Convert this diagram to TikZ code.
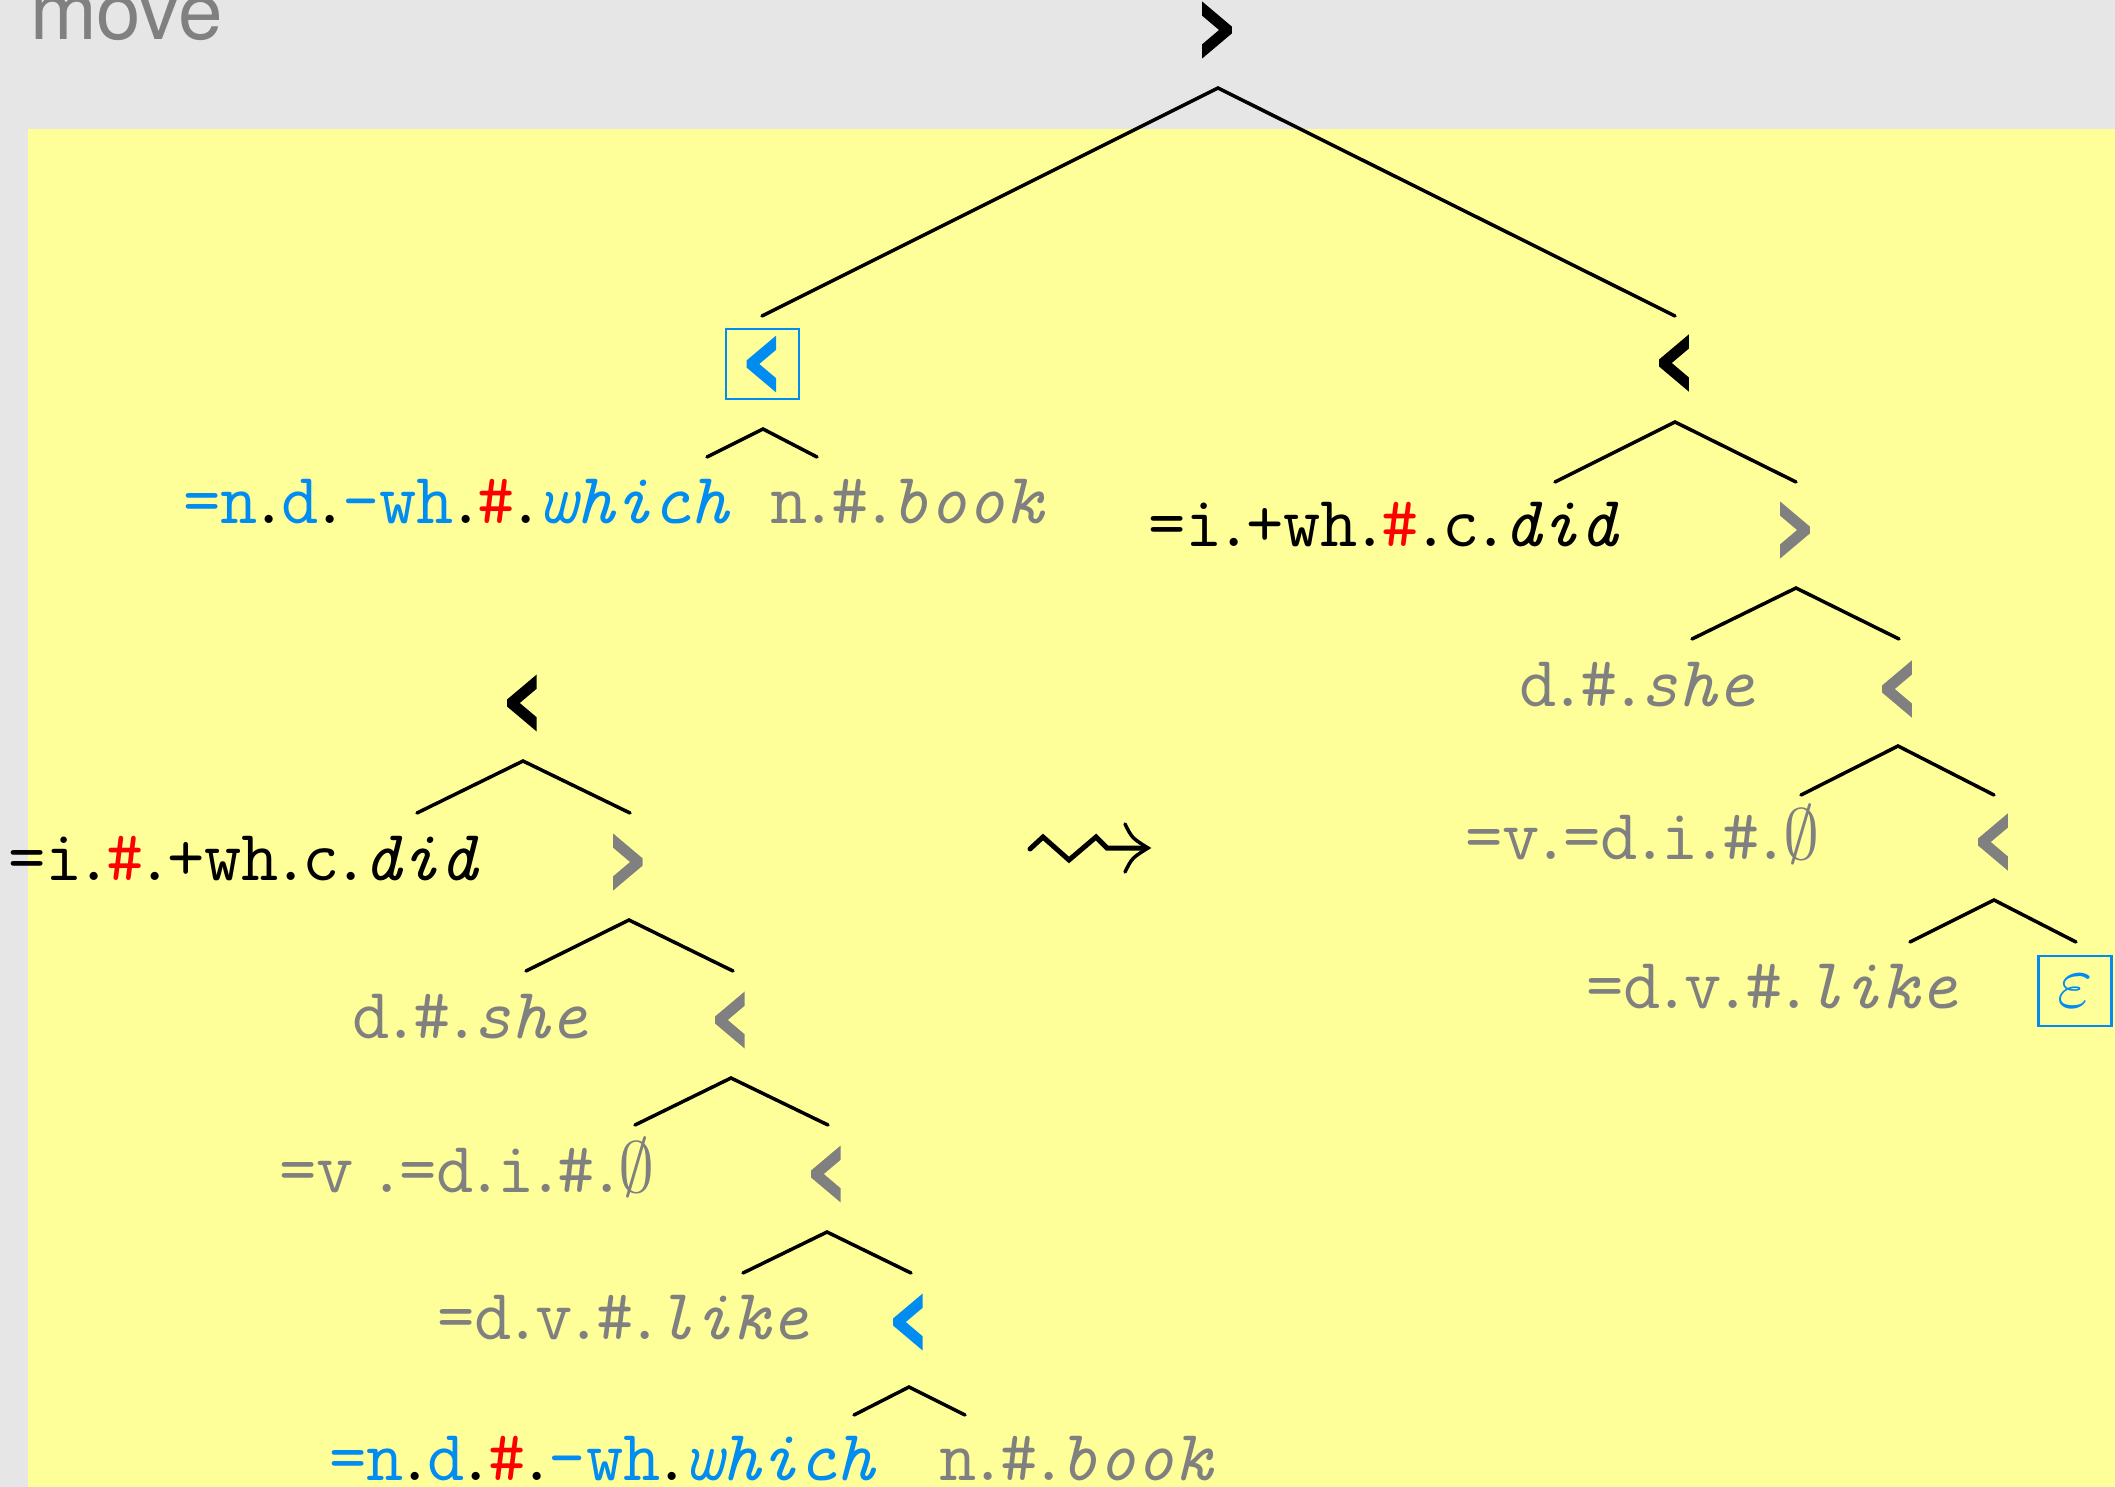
\documentclass[tikz,border=0pt]{standalone}
\usepackage{fontspec}
\newfontfamily\heros{TeX Gyre Heros}
\newfontfamily\symf{TeX Gyre Heros}[BoldFeatures={FakeBold=6}]

\definecolor{bggray}{HTML}{E6E6E6}
\definecolor{bgyellow}{HTML}{FFFF99}
\definecolor{mgblue}{RGB}{0,140,240}
\definecolor{txgray}{HTML}{808080}
\definecolor{hashred}{HTML}{FF0000}

% feature separators: a narrow period, in the current colour or in black
\newcommand\pd{\kern-0.095em.\kern-0.095em}
\newcommand\kd{{\color{black}\pd}}
\newcommand\hs{{\color{hashred}\#}}
\newcommand\ES{\scalebox{7.24}{\fontsize{10}{12}\selectfont$\emptyset$}}
\newcommand\EPS{\scalebox{7.6}{\fontsize{10}{12}\selectfont$\varepsilon$}}

\tikzset{
  sym/.style={font=\symf\bfseries\fontsize{68}{72}\selectfont, inner sep=0pt, anchor=base},
  leaf/.style={font=\ttfamily\fontsize{72.4}{80}\selectfont, inner sep=0pt, anchor=base west},
  branch/.style={line width=3.5pt, line cap=round, line join=miter},
  hlbox/.style={draw=mgblue, line width=2.5pt, minimum width=73pt, minimum height=70pt,
    inner sep=0pt, anchor=center},
  movelabel/.style={font=\heros\fontsize{80}{82}\selectfont, text=txgray, inner sep=0pt, anchor=base west},
}

\begin{document}
\begin{tikzpicture}[x=1pt,y=-1pt]
\clip (0,0) rectangle (2115,1487);
\fill[bggray] (0,0) rectangle (2115,1487);
\fill[bgyellow] (28,129) rectangle (2115,1487);
\node[movelabel] (title) at (30,40) {move};

% ---------- result tree (right) ----------
\node[sym] (r) at (1218,47) {>};
\coordinate (r-a) at (1218,88);
\coordinate (r-l) at (762,316);
\coordinate (r-r) at (1675,316);
\draw[branch] (r-l) -- (r-a) -- (r-r);

\node[sym, hlbox, text=mgblue] (dp) at (762.5,364) {<};
\coordinate (dp-a) at (763,429);
\coordinate (dp-bl) at (707,457);
\coordinate (dp-br) at (817,457);
\draw[branch] (dp-bl) -- (dp-a) -- (dp-br);
\node[leaf, text=mgblue] (dp-l) at (183,523) {=n\kd d\kd-wh\kd\hs\kd\textit{which}};
\node[leaf, text=txgray] (dp-r) at (770,523) {n\pd\#\pd\textit{book}};

\node[sym] (c) at (1675,380) {<};
\coordinate (c-a) at (1675,422);
\coordinate (c-bl) at (1555,482);
\coordinate (c-br) at (1796,482);
\draw[branch] (c-bl) -- (c-a) -- (c-br);
\node[leaf] (c-l) at (1148,546) {=i\pd+wh\pd\hs\pd c\pd\textit{did}};

\node[sym, text=txgray] (c2) at (1796,547) {>};
\coordinate (c2-a) at (1796,588);
\coordinate (c2-bl) at (1692,639);
\coordinate (c2-br) at (1899,639);
\draw[branch] (c2-bl) -- (c2-a) -- (c2-br);
\node[leaf, text=txgray] (c2-l) at (1519,706) {d\pd\#\pd\textit{she}};

\node[sym, text=txgray] (c3) at (1898,706) {<};
\coordinate (c3-a) at (1898,746);
\coordinate (c3-bl) at (1801,795);
\coordinate (c3-br) at (1994,795);
\draw[branch] (c3-bl) -- (c3-a) -- (c3-br);
\node[leaf, text=txgray] (c3-l) at (1465,859) {=v\pd=d\pd i\pd\#\pd\ES};

\node[sym, text=txgray] (c4) at (1994,859) {<};
\coordinate (c4-a) at (1994,900);
\coordinate (c4-bl) at (1910,942);
\coordinate (c4-br) at (2076,942);
\draw[branch] (c4-bl) -- (c4-a) -- (c4-br);
\node[leaf, text=txgray] (c4-l) at (1586,1008) {=d\pd v\pd\#\pd\textit{like}};
\node[hlbox, text=mgblue] (c4-r) at (2075,991) {\EPS};

% ---------- source tree (left) ----------
\node[sym] (t) at (523,720) {<};
\coordinate (t-a) at (523,761);
\coordinate (t-bl) at (417,813);
\coordinate (t-br) at (630,813);
\draw[branch] (t-bl) -- (t-a) -- (t-br);
\node[leaf] (t-l) at (8,880) {=i\pd\hs\pd+wh\pd c\pd\textit{did}};

\node[sym, text=txgray] (t2) at (629,879) {>};
\coordinate (t2-a) at (629,920);
\coordinate (t2-bl) at (526,971);
\coordinate (t2-br) at (733,971);
\draw[branch] (t2-bl) -- (t2-a) -- (t2-br);
\node[leaf, text=txgray] (t2-l) at (352,1038) {d\pd\#\pd\textit{she}};

\node[sym, text=txgray] (t3) at (731,1037) {<};
\coordinate (t3-a) at (731,1078);
\coordinate (t3-bl) at (635,1125);
\coordinate (t3-br) at (828,1125);
\draw[branch] (t3-bl) -- (t3-a) -- (t3-br);
\node[leaf, text=txgray] (t3-l) at (279,1192) {=v\kern0.3em\pd=d\pd i\pd\#\pd\ES};

\node[sym, text=txgray] (t4) at (827,1191) {<};
\coordinate (t4-a) at (827,1232);
\coordinate (t4-bl) at (743,1273);
\coordinate (t4-br) at (911,1273);
\draw[branch] (t4-bl) -- (t4-a) -- (t4-br);
\node[leaf, text=txgray] (t4-l) at (437,1339) {=d\pd v\pd\#\pd\textit{like}};

\node[sym, text=mgblue] (t5) at (909,1339) {<};
\coordinate (t5-a) at (909,1387);
\coordinate (t5-bl) at (854,1415);
\coordinate (t5-br) at (965,1415);
\draw[branch] (t5-bl) -- (t5-a) -- (t5-br);
\node[leaf, text=mgblue] (t5-l) at (329,1480) {=n\kd d\kd\hs\kd-wh\kd\textit{which}};
\node[leaf, text=txgray] (t5-r) at (939,1480) {n\pd\#\pd\textit{book}};

% ---------- the move step ----------
\draw[line width=5pt, line cap=round, line join=miter]
  (1030,849) -- (1043,837) -- (1069,860) -- (1096,837) -- (1107,848) -- (1146,848);
\draw[line width=3.5pt, line cap=round]
  (1125,824) .. controls (1132,838) .. (1148,848) .. controls (1132,858) .. (1125,872);
\end{tikzpicture}
\end{document}
